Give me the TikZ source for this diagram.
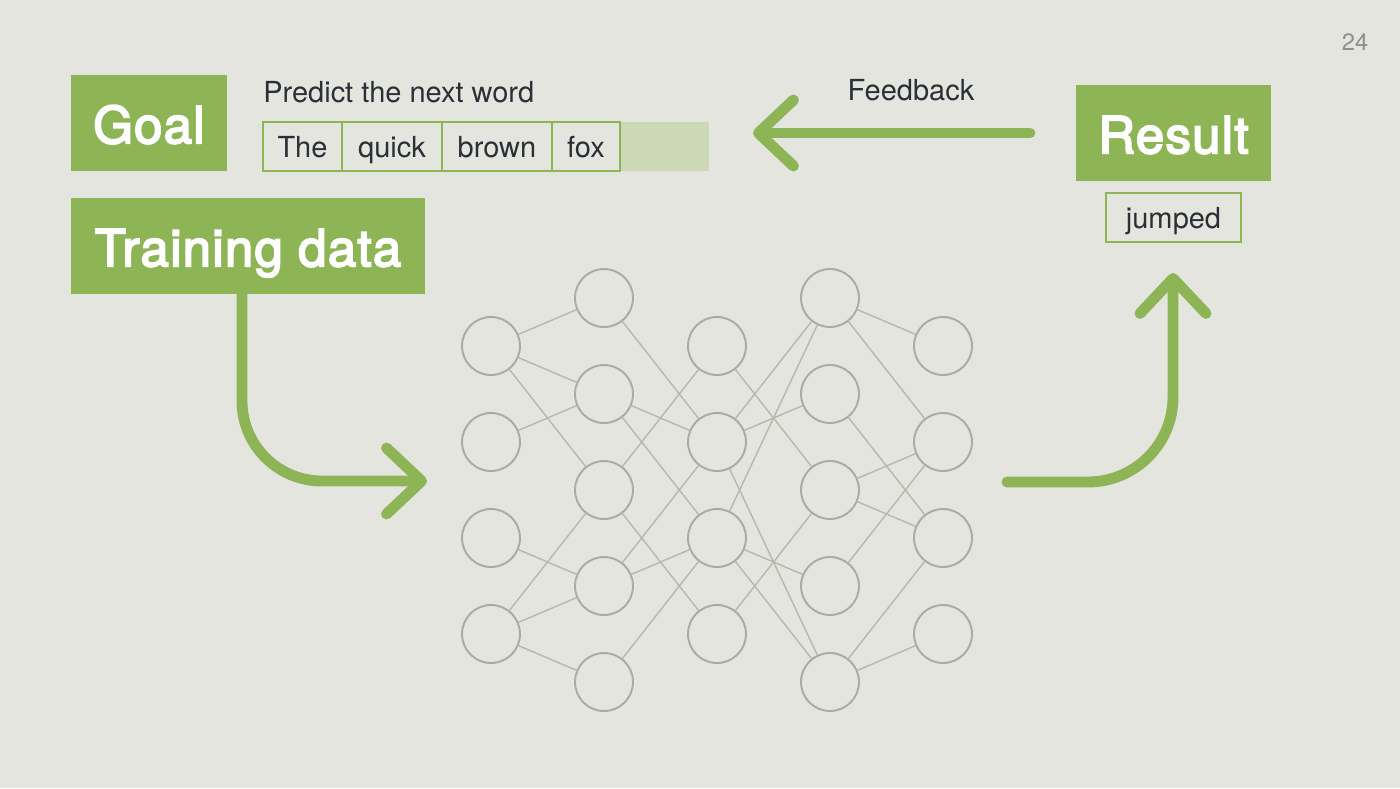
\documentclass[tikz,border=0pt]{standalone}
\usepackage{fontspec}
\setmainfont{TeX Gyre Heros}
\newfontfamily\headfont[FakeBold=3.5, LetterSpace=2.5]{TeX Gyre Heros}
\usetikzlibrary{positioning,arrows.meta}
\definecolor{paper}{HTML}{E5E5E0}
\definecolor{leaf}{HTML}{8DB555}
\definecolor{pale}{HTML}{CDD9B6}
\definecolor{ink}{HTML}{2B3036}
\definecolor{ring}{HTML}{ABAB9E}
\definecolor{wirecol}{HTML}{B8B7A8}
\definecolor{pagegray}{HTML}{8E8E8E}

\begin{document}
\begin{tikzpicture}[x=0.02cm, y=-0.02cm,
    title/.style={fill=leaf, text=white, font=\headfont\fontsize{29}{32}\selectfont, minimum height=1.92cm, inner sep=0, text height=23pt, text depth=0pt},
    cell/.style={draw=leaf, line width=1.1pt, outer sep=0, text=ink, font=\fontsize{16.5}{20}\selectfont, minimum height=0.98cm, inner sep=0, text height=12pt, text depth=0pt},
    note/.style={text=ink, font=\fontsize{16.5}{20}\selectfont, inner sep=0},
    neuron/.style={circle, draw=ring, line width=1.1pt, minimum size=1.16cm, inner sep=0},
    wire/.style={draw=wirecol, line width=0.8pt},
    flow/.style={draw=leaf, line width=6.2pt, line cap=round, -{Straight Barb[length=0.7cm, width=1.32cm, round]}}]
\fill[paper] (0,0) rectangle (1400,788);

\node[text=pagegray, font=\fontsize{13.5}{16}\selectfont, inner sep=0] (page) at (1355,42) {24};

\node[title, minimum width=3.12cm] (goal) at (149,123) {Goal};
\node[title, minimum width=7.08cm] (train) at (248,246) {Training data};
\node[title, minimum width=3.9cm] (result) at (1173.5,133) {Result};
\node[cell, minimum width=2.7cm] (jumped) at (1173.5,217.5) {jumped};

\node[note, anchor=base west] (predict) at (263,102) {Predict the next word};
\node[note, anchor=base] (feedback) at (911,100) {Feedback};

% sentence cells
\node[cell, minimum width=1.58cm, anchor=west] (the) at (263,146.5) {The};
\node[cell, minimum width=2cm, right=0pt of the] (quick) {quick};
\node[cell, minimum width=2.2cm, right=0pt of quick] (brown) {brown};
\node[cell, fill=pale, draw=none, minimum width=1.78cm] (blank) at (664.5,146.5) {};
\node[cell, minimum width=1.36cm, right=0pt of brown] (fox) {fox};

% network
\foreach \i in {1,...,4}
{
    \node[neuron] (a\i) at (491,250+96*\i) {};
    \node[neuron] (c\i) at (717,250+96*\i) {};
    \node[neuron] (e\i) at (943,250+96*\i) {};
}
\foreach \i in {1,...,5}
{
    \node[neuron] (b\i) at (604,202+96*\i) {};
    \node[neuron] (d\i) at (830,202+96*\i) {};
}
\foreach \u/\v in {a1/b1,a1/b2,a1/b3,a2/b2,a3/b4,a4/b3,a4/b4,a4/b5,
    b1/c2,b2/c2,b2/c3,b3/c1,b3/c4,b4/c2,b4/c3,b5/c3,
    c1/d3,c2/d1,c2/d2,c2/d5,c3/d1,c3/d4,c3/d5,c4/d3,
    d1/e1,d1/e2,d2/e3,d3/e2,d3/e3,d4/e2,d5/e3,d5/e4}
{
    \draw[wire] (\u) -- (\v);
}

% arrows
\coordinate (trainfoot) at (242,294);
\coordinate (netin) at (427,481);
\draw[flow, rounded corners=1.6cm] (trainfoot) |- (netin);

\coordinate (netout) at (1007,482);
\coordinate (resin) at (1173,273);
\draw[flow, rounded corners=1.7cm] (netout) -| (resin);

\coordinate (fbstart) at (1030,133);
\coordinate (fbend) at (753,133);
\draw[flow] (fbstart) -- (fbend);
\end{tikzpicture}
\end{document}
